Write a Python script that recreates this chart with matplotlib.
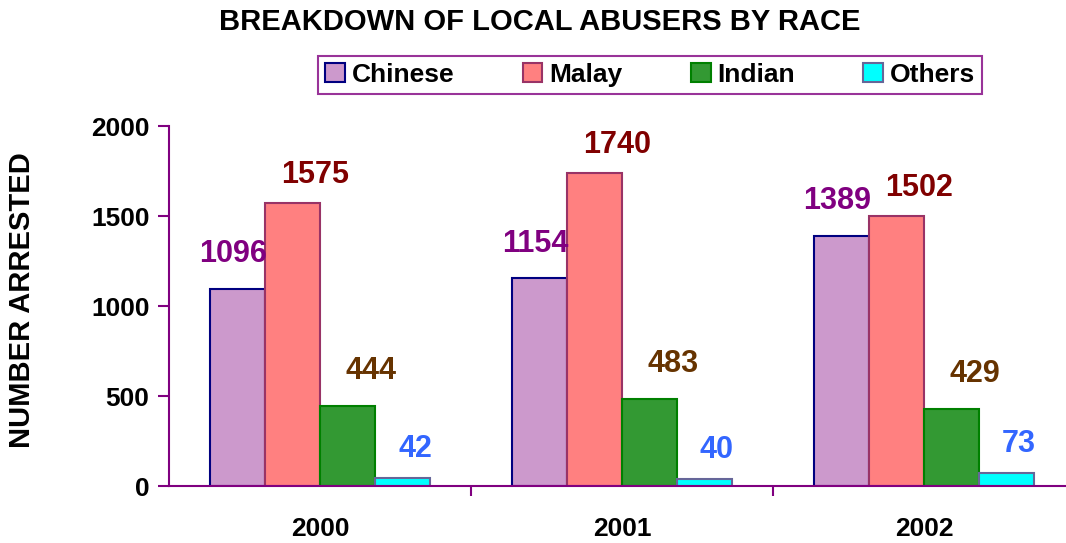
import numpy as np
import matplotlib.pyplot as plt
from matplotlib.patches import Patch

years = ['2000', '2001', '2002']
races = ['Chinese', 'Malay', 'Indian', 'Others']
chinese = [1096, 1154, 1389]
malay = [1575, 1740, 1502]
indian = [444, 483, 429]
others = [42, 40, 73]

plt.rcParams['font.family'] = ['Liberation Sans', 'DejaVu Sans']
plt.rcParams['font.weight'] = 'bold'

purple = '#800080'
fills = ['#CC99CC', '#FF8080', '#339933', '#00FFFF']
edges = ['#000080', '#993366', '#008000', '#666699']
txtcol = ['#800080', '#800000', '#663300', '#3366FF']
txt_dx = [-3, 16, 17, 9]
txt_dy = [25, 20, 25, 21]

fig = plt.figure(figsize=(10.66, 5.43), dpi=100)
ax = fig.add_axes([169/1066, 1-486/543, (1075-169)/1066, (486-126)/543])

x = np.arange(len(years))
w = 0.182
series = [chinese, malay, indian, others]
for k, vals in enumerate(series):
    pos = x + (k - 1.5) * w
    ax.bar(pos, vals, width=w, color=fills[k], edgecolor=edges[k], linewidth=1.5, zorder=2)
    for px, v in zip(pos, vals):
        ax.annotate(str(v), (px, v), xytext=(txt_dx[k], txt_dy[k]), textcoords='offset points',
                    ha='center', va='center', fontsize=22, fontweight='bold', color=txtcol[k])

ax.set_xlim(-0.5, 2.5)
ax.set_ylim(0, 2000)
ax.set_yticks([0, 500, 1000, 1500, 2000])
ax.set_xticks([0.5, 1.5], minor=False)
ax.set_xticklabels([])
ax.set_xticks(x, minor=True)
ax.set_xticklabels(years, minor=True)
ax.tick_params(axis='x', which='minor', length=0, pad=22, labelsize=19)
ax.tick_params(axis='x', which='major', length=7, width=1.5, color=purple, direction='out')
ax.tick_params(axis='y', length=8, width=1.5, color=purple, labelsize=19, pad=6)
for s in ['top', 'right']:
    ax.spines[s].set_visible(False)
for s in ['left', 'bottom']:
    ax.spines[s].set_color(purple)
    ax.spines[s].set_linewidth(1.5)
for lab in ax.get_yticklabels() + ax.get_xticklabels(minor=True):
    lab.set_fontweight('bold')

fig.text(22/1066, 1-300/543, 'NUMBER ARRESTED', rotation=90, ha='center', va='center',
         fontsize=21, fontweight='bold')

fig.text(540/1066, 1-22/543, 'BREAKDOWN OF LOCAL ABUSERS BY RACE', ha='center', va='center',
         fontsize=21, fontweight='bold')

handles = [Patch(facecolor=fills[k], edgecolor=edges[k], linewidth=1.5) for k in range(4)]
leg = fig.legend(handles, races, loc='center', bbox_to_anchor=(650/1066, 1-75/543), ncol=4,
                 frameon=True, fancybox=False, fontsize=19, handlelength=0.75, handleheight=0.75,
                 handletextpad=0.25, columnspacing=2.6, borderpad=0.25, borderaxespad=0)
leg.get_frame().set_edgecolor(purple)
leg.get_frame().set_linewidth(1.5)
for t in leg.get_texts():
    t.set_fontweight('bold')

fig.savefig('out.png', dpi=100)
